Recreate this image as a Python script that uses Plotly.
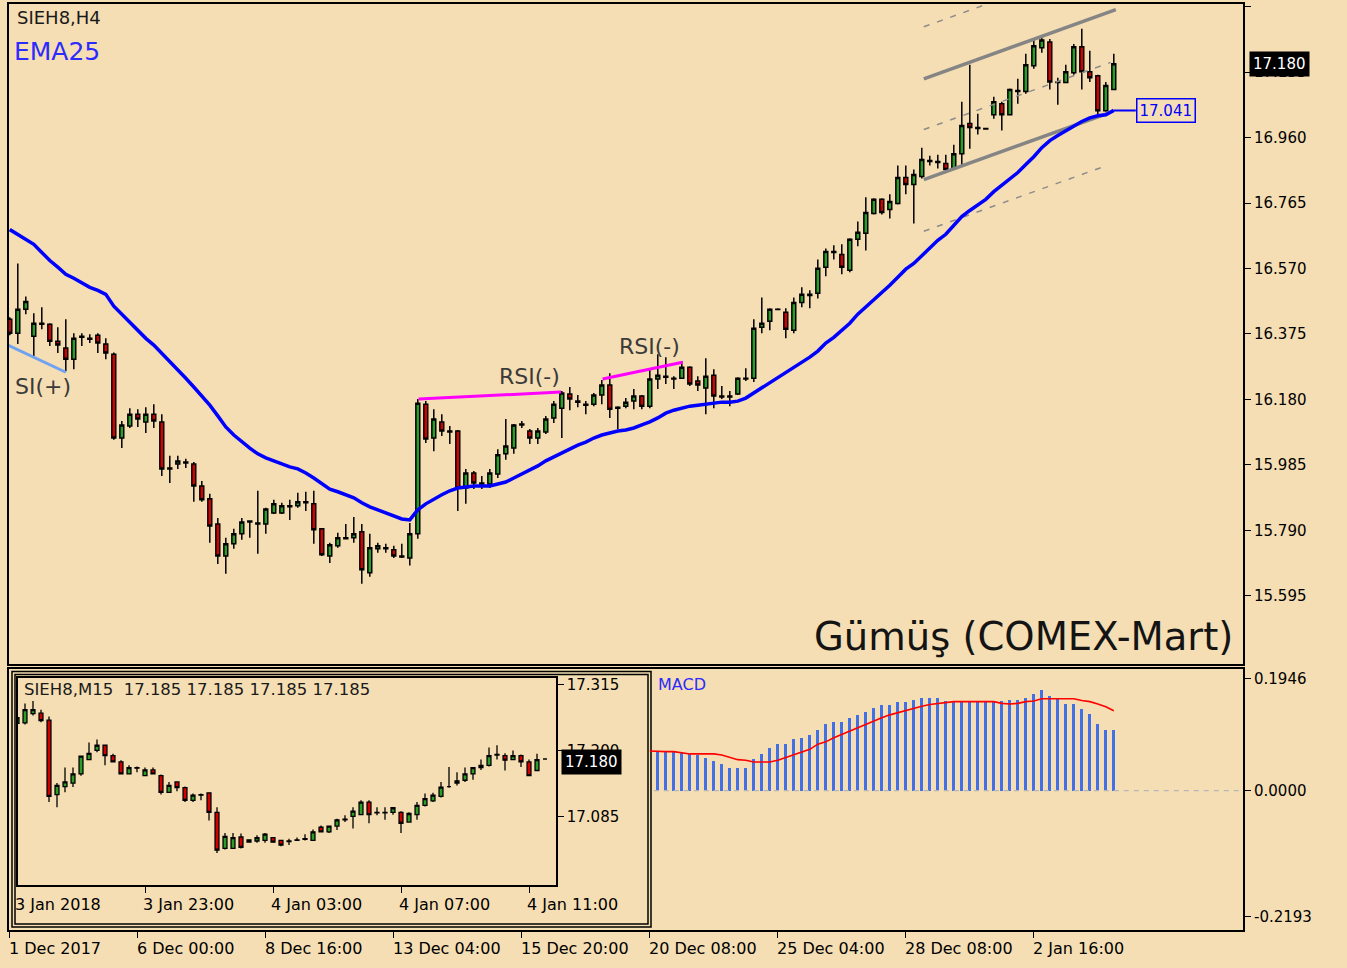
import plotly.graph_objects as go

W, H = 1347, 968
BG = '#F5DEB3'
FONT = 'DejaVu Sans'

# ---------------- H4 main chart data (bar index 0..138) ----------------
opens = [16.419, 16.377, 16.449, 16.368, 16.407, 16.404, 16.353, 16.333, 16.300, 16.368,
         16.362, 16.371, 16.345, 16.315, 16.065, 16.101, 16.136, 16.113, 16.136, 16.113,
         15.976, 15.988, 15.994, 15.988, 15.922, 15.884, 15.809, 15.714, 15.750, 15.780,
         15.818, 15.812, 15.809, 15.842, 15.842, 15.863, 15.863, 15.875, 15.869, 15.795,
         15.714, 15.744, 15.768, 15.768, 15.786, 15.664, 15.735, 15.738, 15.732, 15.714,
         15.708, 15.780, 16.166, 16.065, 16.113, 16.086, 16.086, 15.916, 15.961, 15.931,
         15.928, 15.958, 16.018, 16.035, 16.107, 16.086, 16.065, 16.083, 16.125, 16.154,
         16.196, 16.175, 16.166, 16.166, 16.193, 16.223, 16.157, 16.160, 16.175, 16.190,
         16.160, 16.241, 16.249, 16.243, 16.243, 16.276, 16.235, 16.214, 16.252, 16.190,
         16.190, 16.196, 16.243, 16.243, 16.395, 16.413, 16.449, 16.440, 16.386, 16.469,
         16.493, 16.496, 16.574, 16.621, 16.612, 16.565, 16.657, 16.675, 16.734, 16.776,
         16.746, 16.764, 16.841, 16.820, 16.844, 16.892, 16.889, 16.883, 16.868, 16.912,
         17.002, 16.990, 16.987, 17.028, 17.061, 17.028, 17.100, 17.097, 17.174, 17.228,
         17.245, 17.126, 17.124, 17.153, 17.231, 17.156, 17.144, 17.040, 17.103]
highs = [16.425, 16.585, 16.487, 16.437, 16.455, 16.407, 16.395, 16.419, 16.377, 16.377,
         16.374, 16.377, 16.362, 16.320, 16.116, 16.154, 16.151, 16.157, 16.166, 16.136,
         16.012, 16.012, 16.003, 15.994, 15.937, 15.899, 15.827, 15.768, 15.795, 15.827,
         15.818, 15.908, 15.857, 15.881, 15.872, 15.881, 15.902, 15.905, 15.908, 15.795,
         15.753, 15.783, 15.809, 15.830, 15.809, 15.780, 15.753, 15.750, 15.744, 15.750,
         15.812, 16.181, 16.175, 16.151, 16.136, 16.101, 16.089, 15.973, 15.967, 15.952,
         15.973, 16.032, 16.122, 16.107, 16.116, 16.092, 16.095, 16.131, 16.175, 16.205,
         16.217, 16.193, 16.175, 16.199, 16.238, 16.258, 16.160, 16.184, 16.211, 16.193,
         16.270, 16.315, 16.306, 16.249, 16.294, 16.279, 16.249, 16.303, 16.270, 16.220,
         16.205, 16.246, 16.273, 16.419, 16.484, 16.452, 16.452, 16.452, 16.484, 16.514,
         16.505, 16.597, 16.630, 16.639, 16.642, 16.660, 16.710, 16.782, 16.779, 16.779,
         16.791, 16.877, 16.877, 16.865, 16.930, 16.906, 16.909, 16.909, 16.939, 17.067,
         17.177, 17.031, 16.989, 17.082, 17.067, 17.106, 17.135, 17.210, 17.251, 17.266,
         17.254, 17.138, 17.177, 17.239, 17.284, 17.219, 17.147, 17.126, 17.210]
lows = [16.371, 16.345, 16.434, 16.309, 16.389, 16.339, 16.318, 16.264, 16.270, 16.339,
        16.348, 16.318, 16.300, 16.060, 16.035, 16.095, 16.098, 16.080, 16.095, 15.952,
        15.931, 15.973, 15.976, 15.875, 15.875, 15.753, 15.690, 15.661, 15.735, 15.762,
        15.768, 15.720, 15.780, 15.839, 15.839, 15.821, 15.857, 15.848, 15.750, 15.714,
        15.693, 15.738, 15.765, 15.753, 15.631, 15.652, 15.723, 15.723, 15.708, 15.708,
        15.685, 15.765, 16.050, 16.026, 16.071, 16.047, 15.848, 15.869, 15.913, 15.913,
        15.916, 15.946, 16.000, 16.018, 16.095, 16.047, 16.047, 16.077, 16.110, 16.065,
        16.148, 16.157, 16.136, 16.160, 16.166, 16.125, 16.092, 16.154, 16.151, 16.151,
        16.154, 16.211, 16.226, 16.211, 16.243, 16.220, 16.205, 16.136, 16.154, 16.181,
        16.160, 16.193, 16.235, 16.232, 16.377, 16.386, 16.446, 16.362, 16.377, 16.455,
        16.452, 16.481, 16.547, 16.597, 16.553, 16.559, 16.636, 16.624, 16.731, 16.731,
        16.719, 16.761, 16.791, 16.704, 16.838, 16.877, 16.868, 16.862, 16.868, 16.877,
        16.927, 16.969, 16.985, 17.016, 16.981, 17.028, 17.061, 17.091, 17.165, 17.213,
        17.103, 17.058, 17.124, 17.147, 17.103, 17.126, 17.028, 17.037, 17.103]
closes = [16.377, 16.449, 16.472, 16.407, 16.404, 16.353, 16.342, 16.300, 16.362, 16.365,
          16.359, 16.348, 16.318, 16.065, 16.104, 16.136, 16.122, 16.136, 16.116, 15.973,
          15.973, 15.997, 15.991, 15.922, 15.881, 15.803, 15.714, 15.750, 15.780, 15.815,
          15.815, 15.809, 15.854, 15.869, 15.863, 15.860, 15.875, 15.872, 15.792, 15.717,
          15.747, 15.768, 15.765, 15.780, 15.673, 15.738, 15.744, 15.735, 15.714, 15.711,
          15.780, 16.169, 16.062, 16.122, 16.086, 16.083, 15.916, 15.961, 15.931, 15.928,
          15.961, 16.015, 16.041, 16.104, 16.104, 16.065, 16.086, 16.122, 16.166, 16.199,
          16.181, 16.172, 16.163, 16.193, 16.223, 16.151, 16.154, 16.172, 16.190, 16.160,
          16.241, 16.252, 16.246, 16.241, 16.276, 16.226, 16.223, 16.249, 16.190, 16.187,
          16.187, 16.243, 16.241, 16.392, 16.407, 16.449, 16.448, 16.389, 16.469, 16.493,
          16.490, 16.571, 16.621, 16.618, 16.574, 16.657, 16.678, 16.737, 16.776, 16.737,
          16.770, 16.841, 16.820, 16.850, 16.895, 16.889, 16.886, 16.865, 16.912, 16.996,
          16.990, 16.987, 16.986, 17.067, 17.028, 17.103, 17.097, 17.177, 17.234, 17.251,
          17.126, 17.124, 17.156, 17.231, 17.156, 17.138, 17.040, 17.115, 17.180]
ema25 = [16.686, 16.672, 16.657, 16.642, 16.618, 16.594, 16.574, 16.553, 16.541, 16.526,
         16.514, 16.505, 16.493, 16.458, 16.434, 16.410, 16.386, 16.362, 16.342, 16.318,
         16.294, 16.267, 16.243, 16.217, 16.190, 16.163, 16.131, 16.098, 16.074, 16.053,
         16.035, 16.018, 16.006, 15.997, 15.988, 15.979, 15.973, 15.961, 15.946, 15.928,
         15.913, 15.905, 15.896, 15.887, 15.872, 15.860, 15.851, 15.842, 15.833, 15.824,
         15.821, 15.851, 15.869, 15.884, 15.896, 15.908, 15.916, 15.919, 15.922, 15.922,
         15.922, 15.928, 15.934, 15.946, 15.958, 15.970, 15.982, 15.997, 16.009, 16.021,
         16.032, 16.044, 16.053, 16.065, 16.074, 16.080, 16.086, 16.089, 16.095, 16.104,
         16.113, 16.125, 16.139, 16.148, 16.154, 16.160, 16.163, 16.166, 16.169, 16.172,
         16.172, 16.175, 16.184, 16.199, 16.214, 16.229, 16.243, 16.261, 16.276, 16.291,
         16.306, 16.324, 16.348, 16.365, 16.386, 16.407, 16.434, 16.455, 16.475, 16.496,
         16.520, 16.544, 16.568, 16.585, 16.609, 16.633, 16.654, 16.672, 16.698, 16.725,
         16.743, 16.758, 16.776, 16.799, 16.817, 16.835, 16.856, 16.880, 16.903, 16.930,
         16.951, 16.966, 16.981, 16.996, 17.008, 17.019, 17.025, 17.028, 17.041]

price_ticks = [17.350, 17.155, 16.960, 16.765, 16.570, 16.375, 16.180, 15.985, 15.790, 15.595]
time_tick_idx = [0, 16, 32, 48, 64, 80, 96, 112, 128]
time_tick_text = ['1 Dec 2017', '6 Dec 00:00', '8 Dec 16:00', '13 Dec 04:00', '15 Dec 20:00',
                  '20 Dec 08:00', '25 Dec 04:00', '28 Dec 08:00', '2 Jan 16:00']

# trend channel and divergence lines (bar index, price)
chan_x = [114.25, 138.25]
chan_upper = [17.135, 17.341]
chan_lower_x = [114.25, 137.25]
chan_lower = [16.835, 17.032]
chan_mid_x = [114.25, 137.6]
chan_mid = [16.984, 17.184]
chan_outer_lo_x = [114.25, 137.25]
chan_outer_lo = [16.681, 16.878]
chan_outer_hi_x = [114.25, 138.25]
chan_outer_hi = [17.290, 17.496]
rsi1_x = [51.1, 68.9]
rsi1_y = [16.181, 16.202]
rsi2_x = [74.1, 84.1]
rsi2_y = [16.241, 16.291]
rsip_x = [-0.5, 7.0]
rsip_y = [16.345, 16.261]

# ---------------- MACD ----------------
macd_hist_start = 81
macd_hist = [0.068, 0.068, 0.068, 0.068, 0.064, 0.062, 0.058, 0.052, 0.047, 0.040,
             0.040, 0.040, 0.055, 0.065, 0.075, 0.082, 0.082, 0.090, 0.092, 0.097,
             0.107, 0.117, 0.120, 0.120, 0.127, 0.132, 0.137, 0.144, 0.149, 0.149,
             0.155, 0.155, 0.159, 0.162, 0.162, 0.162, 0.156, 0.157, 0.157, 0.157,
             0.157, 0.157, 0.157, 0.156, 0.159, 0.159, 0.162, 0.169, 0.176, 0.166,
             0.161, 0.151, 0.151, 0.142, 0.134, 0.117, 0.107, 0.107]
macd_sig_start = 80
macd_signal = [0.069, 0.068, 0.068, 0.068, 0.066, 0.064, 0.064, 0.064, 0.064, 0.062,
               0.058, 0.054, 0.053, 0.050, 0.050, 0.050, 0.053, 0.058, 0.062, 0.068,
               0.072, 0.081, 0.085, 0.092, 0.098, 0.104, 0.110, 0.116, 0.121, 0.127,
               0.132, 0.136, 0.140, 0.143, 0.147, 0.150, 0.152, 0.154, 0.155, 0.155,
               0.155, 0.155, 0.155, 0.155, 0.152, 0.151, 0.152, 0.155, 0.156, 0.160,
               0.160, 0.160, 0.160, 0.160, 0.157, 0.155, 0.151, 0.146, 0.139]
macd_ticks = [0.1946, 0.0, -0.2193]
macd_tick_text = ['0.1946', '0.0000', '-0.2193']

# ---------------- M15 inset data (bar index 0..66) ----------------
in_open = [17.247, 17.248, 17.264, 17.265, 17.253, 17.123, 17.137, 17.143, 17.159, 17.184,
           17.200, 17.209, 17.191, 17.180, 17.159, 17.170, 17.156, 17.166, 17.156, 17.127,
           17.145, 17.135, 17.113, 17.123, 17.126, 17.092, 17.029, 17.029, 17.049, 17.040,
           17.042, 17.043, 17.048, 17.043, 17.042, 17.044, 17.046, 17.043, 17.066, 17.058,
           17.068, 17.080, 17.085, 17.088, 17.110, 17.092, 17.092, 17.092, 17.092, 17.075,
           17.088, 17.104, 17.112, 17.120, 17.137, 17.143, 17.148, 17.159, 17.170, 17.174,
           17.193, 17.191, 17.184, 17.191, 17.180, 17.165, 17.185]
in_high = [17.259, 17.282, 17.286, 17.271, 17.259, 17.143, 17.170, 17.170, 17.191, 17.214,
           17.219, 17.209, 17.194, 17.183, 17.174, 17.172, 17.170, 17.170, 17.158, 17.145,
           17.145, 17.137, 17.125, 17.125, 17.127, 17.101, 17.056, 17.056, 17.055, 17.044,
           17.052, 17.056, 17.049, 17.044, 17.046, 17.048, 17.054, 17.062, 17.069, 17.069,
           17.081, 17.087, 17.101, 17.113, 17.113, 17.101, 17.101, 17.101, 17.094, 17.092,
           17.110, 17.125, 17.126, 17.145, 17.171, 17.162, 17.170, 17.171, 17.184, 17.205,
           17.209, 17.195, 17.200, 17.193, 17.184, 17.194, 17.185]
in_low = [17.245, 17.245, 17.261, 17.249, 17.110, 17.101, 17.127, 17.136, 17.156, 17.183,
          17.197, 17.174, 17.180, 17.159, 17.158, 17.162, 17.155, 17.158, 17.123, 17.126,
          17.129, 17.110, 17.110, 17.113, 17.078, 17.021, 17.027, 17.029, 17.029, 17.039,
          17.039, 17.039, 17.039, 17.033, 17.035, 17.042, 17.043, 17.043, 17.058, 17.056,
          17.061, 17.075, 17.064, 17.087, 17.073, 17.087, 17.079, 17.088, 17.056, 17.075,
          17.079, 17.102, 17.110, 17.118, 17.135, 17.139, 17.145, 17.149, 17.166, 17.172,
          17.184, 17.165, 17.183, 17.171, 17.155, 17.164, 17.185]
in_close = [17.257, 17.271, 17.271, 17.252, 17.120, 17.139, 17.145, 17.159, 17.190, 17.195,
            17.209, 17.191, 17.180, 17.159, 17.170, 17.169, 17.166, 17.159, 17.127, 17.139,
            17.135, 17.113, 17.122, 17.122, 17.092, 17.026, 17.050, 17.048, 17.031, 17.044,
            17.048, 17.054, 17.040, 17.035, 17.041, 17.043, 17.045, 17.058, 17.058, 17.068,
            17.079, 17.079, 17.094, 17.110, 17.088, 17.091, 17.091, 17.100, 17.073, 17.090,
            17.104, 17.116, 17.122, 17.136, 17.137, 17.147, 17.159, 17.170, 17.174, 17.191,
            17.192, 17.183, 17.191, 17.180, 17.156, 17.184, 17.185]
in_price_ticks = [17.315, 17.200, 17.085]
in_time_idx = [0, 16, 32, 48, 64]
in_time_text = ['3 Jan 2018', '3 Jan 23:00', '4 Jan 03:00', '4 Jan 07:00', '4 Jan 11:00']
last_price = 17.180
ema_last = 17.041


def px(x):
    return x / W


def py(y):
    return 1 - y / H


GREEN = '#2A9E2A'
RED = '#D40000'

fig = go.Figure()

# divergence lines
fig.add_trace(go.Scatter(x=rsip_x, y=rsip_y, mode='lines', line=dict(color='#6FA3F2', width=3),
                         xaxis='x', yaxis='y', hoverinfo='skip'))
fig.add_trace(go.Scatter(x=rsi1_x, y=rsi1_y, mode='lines', line=dict(color='#FF00FF', width=3),
                         xaxis='x', yaxis='y', hoverinfo='skip'))
fig.add_trace(go.Scatter(x=rsi2_x, y=rsi2_y, mode='lines', line=dict(color='#FF00FF', width=3),
                         xaxis='x', yaxis='y', hoverinfo='skip'))
# channel
for xs, ys in [(chan_outer_hi_x, chan_outer_hi), (chan_mid_x, chan_mid), (chan_outer_lo_x, chan_outer_lo)]:
    fig.add_trace(go.Scatter(x=xs, y=ys, mode='lines', line=dict(color='#8C8C8C', width=1.5, dash='6px,8px'),
                             xaxis='x', yaxis='y', hoverinfo='skip'))
for xs, ys in [(chan_x, chan_upper), (chan_lower_x, chan_lower)]:
    fig.add_trace(go.Scatter(x=xs, y=ys, mode='lines', line=dict(color='#858585', width=3.5),
                             xaxis='x', yaxis='y', hoverinfo='skip'))

fig.add_trace(go.Candlestick(
    x=list(range(len(opens))), open=opens, high=highs, low=lows, close=closes,
    xaxis='x', yaxis='y', whiskerwidth=0,
    increasing=dict(fillcolor=GREEN, line=dict(color='#000000', width=1.5)),
    decreasing=dict(fillcolor=RED, line=dict(color='#000000', width=1.5)),
    hoverinfo='skip'))

fig.add_trace(go.Scatter(x=list(range(len(ema25))), y=ema25, mode='lines',
                         line=dict(color='#0000FF', width=3.5), xaxis='x', yaxis='y', hoverinfo='skip'))
fig.add_trace(go.Scatter(x=[len(ema25) - 1, 140.75], y=[ema_last, ema_last], mode='lines',
                         line=dict(color='#0000FF', width=2), xaxis='x', yaxis='y', hoverinfo='skip'))

# MACD
fig.add_trace(go.Scatter(x=[80.5, 160], y=[0, 0], mode='lines',
                         line=dict(color='#B8B8B8', width=1.2, dash='5px,5px'),
                         xaxis='x2', yaxis='y2', hoverinfo='skip'))
fig.add_trace(go.Bar(x=list(range(macd_hist_start, macd_hist_start + len(macd_hist))), y=macd_hist,
                     width=0.42, marker=dict(color='#4270E6', line=dict(width=0)),
                     xaxis='x2', yaxis='y2', hoverinfo='skip'))
fig.add_trace(go.Scatter(x=list(range(macd_sig_start, macd_sig_start + len(macd_signal))), y=macd_signal,
                         mode='lines', line=dict(color='#FF0000', width=1.6),
                         xaxis='x2', yaxis='y2', hoverinfo='skip'))

# inset M15 candles
fig.add_trace(go.Candlestick(
    x=list(range(len(in_open))), open=in_open, high=in_high, low=in_low, close=in_close,
    xaxis='x3', yaxis='y3', whiskerwidth=0,
    increasing=dict(fillcolor=GREEN, line=dict(color='#000000', width=1.3)),
    decreasing=dict(fillcolor=RED, line=dict(color='#000000', width=1.3)),
    hoverinfo='skip'))

axis_common = dict(showgrid=False, zeroline=False, showline=True, mirror=True,
                   linecolor='#000000', fixedrange=True)

annotations = []


def ann(text, x, y, xref='paper', yref='paper', size=15, color='#000000', xanchor='left',
        yanchor='middle', **kw):
    annotations.append(dict(text=text, x=x, y=y, xref=xref, yref=yref, showarrow=False,
                            xanchor=xanchor, yanchor=yanchor,
                            font=dict(family=FONT, size=size, color=color), **kw))


ann('SIEH8,H4', px(15), py(16), size=18, color='#1a1a1a')
ann('EMA25', px(12), py(50), size=25, color='#2B2BFF')
ann('Gümüş (COMEX-Mart)', px(1235), py(636), size=38.5, color='#141414', xanchor='right')
ann('RSI(-)', 65, 16.249, xref='x', yref='y', size=22, color='#3a3a3a', xanchor='center')
ann('RSI(-)', 80, 16.339, xref='x', yref='y', size=22, color='#3a3a3a', xanchor='center')
ann('SI(+)', 0.35, 16.220, xref='x', yref='y', size=22, color='#3a3a3a', xanchor='left')
ann('MACD', px(656), py(684), size=16, color='#2B2BFF')
ann('SIEH8,M15  17.185 17.185 17.185 17.185', px(22), py(689), size=16.5, color='#1a1a1a')

for t, s in zip(time_tick_idx, time_tick_text):
    ann(s, t, py(948), xref='x2', size=16, xshift=-3)
# first inset label sits on the frame edge: place in paper coordinates so it is not hidden
ann(in_time_text[0], px(13), py(904), size=16)
for t, s in zip(in_time_idx[1:], in_time_text[1:]):
    ann(s, t, py(904), xref='x3', size=16, xshift=-4)

ann('%.3f' % last_price, px(1249), last_price, yref='y', size=15, color='#FFFFFF',
    bgcolor='#000000', borderpad=3)
ann('%.3f' % last_price, px(561), last_price, yref='y3', size=15, color='#FFFFFF',
    bgcolor='#000000', borderpad=3)
ann('%.3f' % ema_last, 140.75, ema_last, xref='x', yref='y', size=15, color='#0000FF',
    bgcolor=BG, bordercolor='#0000FF', borderwidth=1.5, borderpad=2)

shapes = [
    dict(type='rect', xref='paper', yref='paper', x0=px(12), x1=px(651), y0=py(927), y1=py(671),
         line=dict(color='#000000', width=1.5), fillcolor=BG, layer='below'),
    dict(type='rect', xref='paper', yref='paper', x0=px(15), x1=px(648), y0=py(924), y1=py(674),
         line=dict(color='#000000', width=1.5), fillcolor='rgba(0,0,0,0)', layer='below'),
]

fig.update_layout(
    width=W, height=H, margin=dict(l=0, r=0, t=0, b=0),
    paper_bgcolor=BG, plot_bgcolor=BG, showlegend=False,
    font=dict(family=FONT, size=15, color='#000000'),
    xaxis=dict(domain=[px(9), px(1243)], anchor='y', range=[-0.1, 154.15],
               showticklabels=False, ticks='', linewidth=2,
               rangeslider=dict(visible=False), **axis_common),
    yaxis=dict(domain=[py(663), py(2)], anchor='x', side='right', range=[15.393, 17.358],
               tickvals=price_ticks, ticktext=['%.3f' % v for v in price_ticks],
               ticks='outside', ticklen=6, tickcolor='#000000', tickwidth=1.2, linewidth=2,
               tickfont=dict(family=FONT, size=15, color='#000000'), **axis_common),
    xaxis2=dict(domain=[px(9), px(1243)], anchor='y2', range=[-0.1, 154.15],
                tickvals=time_tick_idx, showticklabels=False, ticks='outside', ticklen=6,
                tickcolor='#000000', tickwidth=1.2, linewidth=2,
                rangeslider=dict(visible=False), **axis_common),
    yaxis2=dict(domain=[py(930), py(668)], anchor='x2', side='right', range=[-0.2427, 0.2125],
                tickvals=macd_ticks, ticktext=macd_tick_text,
                ticks='outside', ticklen=6, tickcolor='#000000', tickwidth=1.2, linewidth=2,
                tickfont=dict(family=FONT, size=15, color='#000000'), **axis_common),
    xaxis3=dict(domain=[px(18), px(556)], anchor='y3', range=[0.125, 67.375],
                tickvals=in_time_idx, showticklabels=False, ticks='outside', ticklen=6,
                tickcolor='#000000', tickwidth=1.2, linewidth=1.5,
                rangeslider=dict(visible=False), **axis_common),
    yaxis3=dict(domain=[py(885), py(677)], anchor='x3', side='right', range=[16.965, 17.327],
                tickvals=in_price_ticks, ticktext=['%.3f' % v for v in in_price_ticks],
                ticks='outside', ticklen=6, tickcolor='#000000', tickwidth=1.2, linewidth=1.5,
                tickfont=dict(family=FONT, size=15, color='#000000'), **axis_common),
    annotations=annotations,
    shapes=shapes,
    bargap=0,
)

fig.write_html('out.html')
